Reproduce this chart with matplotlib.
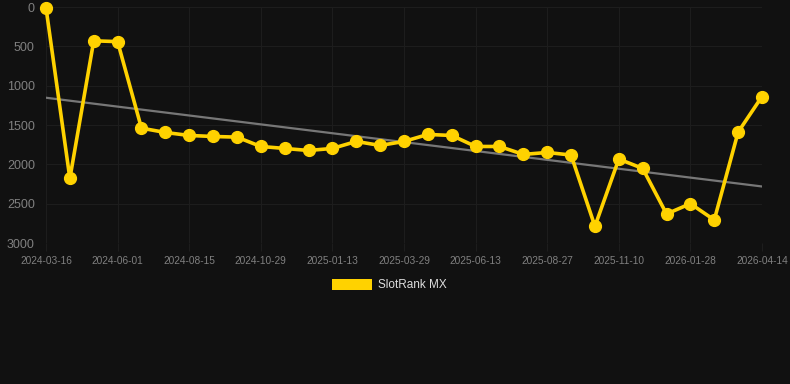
import matplotlib
matplotlib.use("Agg")
import matplotlib.pyplot as plt
import numpy as np
from matplotlib.patches import Rectangle

plt.rcParams['font.family'] = ['Liberation Sans', 'DejaVu Sans']

tick_labels = ["2024-03-16", "2024-06-01", "2024-08-15", "2024-10-29", "2025-01-13",
               "2025-03-29", "2025-06-13", "2025-08-27", "2025-11-10", "2026-01-28",
               "2026-04-14"]
ranks = [10, 2180, 430, 440, 1540, 1595, 1633, 1646, 1654, 1773, 1798, 1824, 1798,
         1709, 1760, 1709, 1620, 1633, 1773, 1773, 1874, 1849, 1882, 2788, 1933,
         2052, 2631, 2500, 2707, 1590, 1138]
series_name = "SlotRank MX"

bg = "#111111"
fig = plt.figure(figsize=(7.9, 3.84), dpi=100, facecolor=bg)
ax = fig.add_axes([46/790, 1 - 243/384, (762-46)/790, (243-7)/384], facecolor=bg)

x = np.arange(len(ranks))
coef = np.polyfit(x, ranks, 1)
ax.plot(x, np.polyval(coef, x), color="#777777", lw=1.6, zorder=2)
ax.plot(x, ranks, color="#FFD200", lw=2.6, marker="o", ms=8.5,
        solid_joinstyle="miter", zorder=3, clip_on=False)

ax.set_xlim(0, len(ranks) - 1)
ax.set_ylim(3000, 0)
ax.set_yticks([0, 500, 1000, 1500, 2000, 2500, 3000])
tick_pos = x[::3]
ax.set_xticks(tick_pos)
ax.set_xticklabels(tick_labels)
ax.grid(True, color="#1d1d1d", lw=0.8)
for s in ax.spines.values():
    s.set_visible(False)
ax.tick_params(axis="both", length=0, colors="#808080")
ax.tick_params(axis="x", length=6, color="#1d1d1d")
ax.tick_params(axis="y", labelsize=9, pad=8)
ax.tick_params(axis="x", labelsize=7.3, pad=3)

# legend
fig.patches.append(Rectangle((332/790, 1 - 290/384), 40/790, 11/384,
                             transform=fig.transFigure, facecolor="#FFD200",
                             edgecolor="none"))
fig.text(378/790, 1 - 285/384, series_name, color="#dddddd", fontsize=8.5,
         va="center", ha="left")

fig.savefig("out.png", dpi=100, facecolor=bg)
